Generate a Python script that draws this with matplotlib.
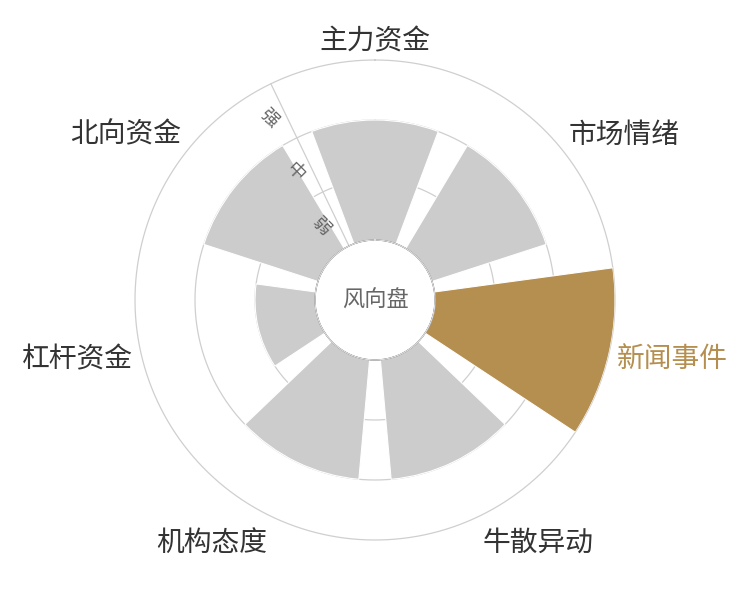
import numpy as np
import matplotlib
matplotlib.use('Agg')
import matplotlib.pyplot as plt

plt.rcParams['font.family'] = ['Noto Sans CJK SC', 'DejaVu Sans']

categories = ['主力资金', '市场情绪', '新闻事件', '牛散异动', '机构态度', '杠杆资金', '北向资金']
values = [2, 2, 3, 2, 2, 1, 2]
levels = ['弱', '中', '强']
highlight = '新闻事件'
center_label = '风向盘'

GRAY = '#cccccc'
GOLD = '#b58f50'
GRID = '#cfcfcf'
TEXT = '#333333'
SUB = '#666666'

fig = plt.figure(figsize=(7.5, 6), dpi=100)
fig.patch.set_facecolor('white')
ax = fig.add_axes([0.18, 0.1, 0.64, 0.8], projection='polar')
ax.set_theta_zero_location('N')
ax.set_theta_direction(-1)
nlev = len(levels)
ax.set_ylim(0, nlev)
ax.set_rorigin(-1)
ax.grid(False)
ax.set_xticks([])
ax.set_yticks([])
for s in ax.spines.values():
    s.set_visible(False)

n = len(categories)
step = 2 * np.pi / n
theta = np.arange(n) * step

# grid circles and radial axis line
tt = np.linspace(0, 2 * np.pi, 1441)
for r in range(1, nlev + 1):
    ax.plot(tt, np.full_like(tt, r), color=GRID, lw=0.9, zorder=1, clip_on=False)
axis_theta = (n - 0.5) * step
ax.plot([axis_theta, axis_theta], [0, nlev], color=GRID, lw=0.9, zorder=1, clip_on=False)

colors = [GOLD if c == highlight else GRAY for c in categories]
ax.bar(theta, values, width=0.8 * step, bottom=0, color=colors,
       edgecolor='white', linewidth=0.8, zorder=2)

# inner circle edge
ax.plot(tt, np.zeros_like(tt), color='#dddddd', lw=1.0, zorder=3, clip_on=False)

# category labels
px_per_unit = 60.0
r_lab = nlev + 8 / px_per_unit
for i, c in enumerate(categories):
    phi = np.pi / 2 - theta[i]
    x, y = np.cos(phi), np.sin(phi)
    ha = 'center' if abs(x) < 0.3 else ('left' if x > 0 else 'right')
    va = 'center' if abs(y) < 0.3 else ('bottom' if y > 0 else 'top')
    ax.annotate(c, xy=(theta[i], r_lab), xytext=(0, -3), textcoords='offset points',
                ha=ha, va=va, fontsize=20,
                color=GOLD if c == highlight else TEXT, zorder=5, annotation_clip=False)

# level labels along radial axis
phi_ax = np.degrees(np.pi / 2 - axis_theta)  # math angle
nvec = np.array([np.cos(np.radians(phi_ax + 90)), np.sin(np.radians(phi_ax + 90))])
off = 17 * 0.72
for i, lv in enumerate(levels):
    ax.annotate(lv, xy=(axis_theta, i + 0.5), xytext=(off * nvec[0], off * nvec[1]),
                textcoords='offset points', ha='center', va='center',
                rotation=-45, rotation_mode='anchor',
                fontsize=13, color=SUB, zorder=5)

ax.text(0.5, 0.5, center_label, transform=ax.transAxes, ha='center', va='center',
        fontsize=16, color=SUB, zorder=5)

fig.savefig('out.png', dpi=100, facecolor='white')
